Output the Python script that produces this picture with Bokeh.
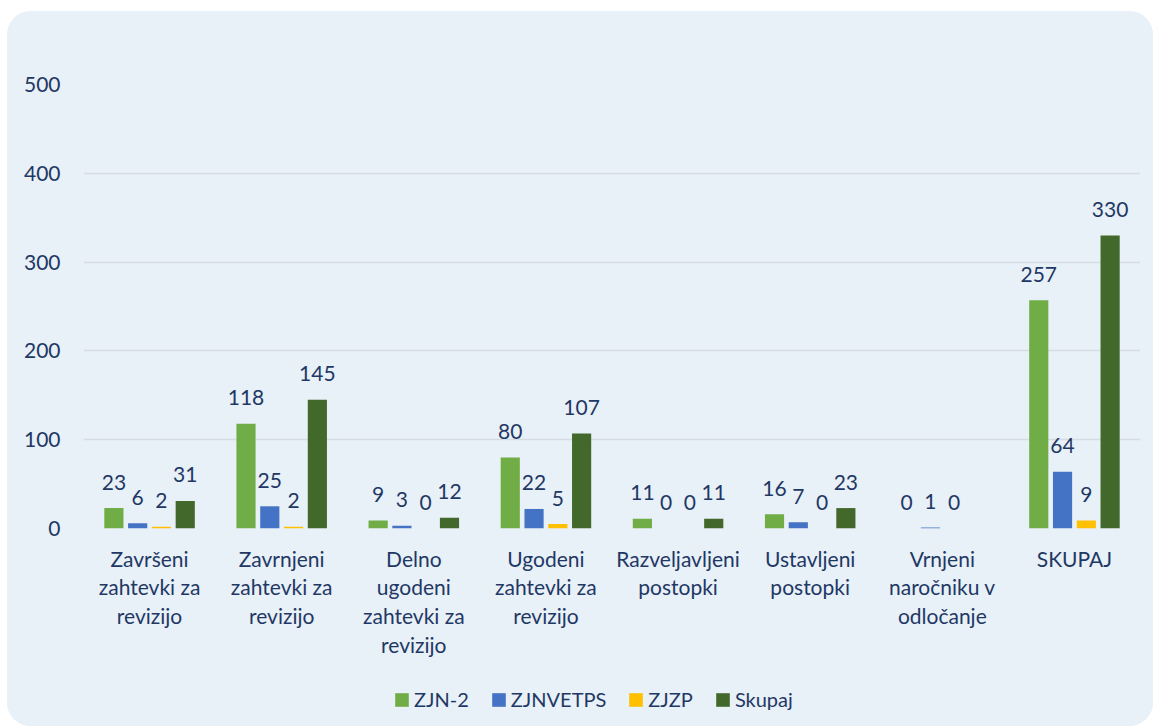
from bokeh.plotting import figure
from bokeh.models import ColumnDataSource, FactorRange, Legend, LegendItem, Range1d, FixedTicker
from bokeh.layouts import column
from bokeh.transform import dodge
from bokeh.core.properties import value
from bokeh.embed import file_html
from bokeh.resources import INLINE

categories = [
    "Završeni\nzahtevki za\nrevizijo",
    "Zavrnjeni\nzahtevki za\nrevizijo",
    "Delno\nugodeni\nzahtevki za\nrevizijo",
    "Ugodeni\nzahtevki za\nrevizijo",
    "Razveljavljeni\npostopki",
    "Ustavljeni\npostopki",
    "Vrnjeni\nnaročniku v\nodločanje",
    "SKUPAJ",
]
series_names = ["ZJN-2", "ZJNVETPS", "ZJZP", "Skupaj"]
zjn2 = [23, 118, 9, 80, 11, 16, 0, 257]
zjnvetps = [6, 25, 3, 22, 0, 7, 1, 64]
zjzp = [2, 2, 0, 5, 0, 0, 0, 9]
skupaj = [31, 145, 12, 107, 11, 23, None, 330]
y_ticks = [0, 100, 200, 300, 400, 500]

colors = ["#70AD47", "#4472C4", "#FFC000", "#43682B"]
offsets = [-0.27, -0.09, 0.09, 0.27]
TEXT = "#1F3864"
BG = "#E8F0F8"
FONT = "Lato"

p = figure(
    x_range=FactorRange(*categories, range_padding=0),
    y_range=Range1d(0, 500),
    width=1146, height=652,
    output_backend="svg", toolbar_location=None,
    min_border_left=76, min_border_right=13, min_border_top=73, min_border_bottom=135,
)
p.x_range.factor_padding = 0
p.background_fill_color = BG
p.border_fill_color = BG
p.outline_line_color = None

for name, vals, col, off in zip(series_names, [zjn2, zjnvetps, zjzp, skupaj], colors, offsets):
    xs = [c for c, v in zip(categories, vals) if v is not None]
    ys = [v for v in vals if v is not None]
    src = ColumnDataSource(dict(x=xs, y=ys, lbl=[str(v) for v in ys]))
    p.vbar(x=dodge("x", off, range=p.x_range), top="y", bottom=0, width=0.145,
           source=src, fill_color=col, line_color=None)
    p.text(x=dodge("x", off, range=p.x_range), y="y", text="lbl", source=src,
           text_align="center", text_baseline="alphabetic", y_offset=-26,
           text_font=value(FONT), text_font_size="21px", text_color=TEXT)

p.xgrid.grid_line_color = None
p.ygrid.grid_line_color = "#D6DCE3"
p.ygrid.grid_line_width = 1.5
p.yaxis.ticker = FixedTicker(ticks=y_ticks)

for ax in (p.xaxis, p.yaxis):
    ax.axis_line_color = None
    ax.major_tick_line_color = None
    ax.minor_tick_line_color = None
    ax.major_label_text_font = FONT
    ax.major_label_text_font_size = "21px"
    ax.major_label_text_color = TEXT

p.yaxis.major_label_standoff = 17
p.xaxis.major_label_standoff = 11
p.xaxis.major_label_text_line_height = 1.15
p.xaxis.major_label_orientation = "horizontal"

# legend strip
lg = figure(width=1146, height=63, x_range=Range1d(0, 1), y_range=Range1d(0, 1),
            output_backend="svg", toolbar_location=None,
            min_border_left=0, min_border_right=0, min_border_top=0, min_border_bottom=0)
lg.axis.visible = False
lg.grid.visible = False
lg.background_fill_color = BG
lg.border_fill_color = BG
lg.outline_line_color = None
items = []
for name, col in zip(series_names, colors):
    r = lg.vbar(x=[-5], top=[-5], bottom=[-6], width=0.1, fill_color=col, line_color=None)
    items.append(LegendItem(label=name, renderers=[r]))
legend = Legend(items=items, orientation="horizontal", location=(310, 15),
                label_text_font=FONT, label_text_font_size="20px", label_text_color=TEXT,
                glyph_width=17, glyph_height=17, label_standoff=4, spacing=21,
                background_fill_alpha=0, border_line_color=None,
                margin=0, padding=0)
lg.add_layout(legend, "center")

layout = column(p, lg, spacing=0)
layout.margin = (11, 0, 0, 7)
layout.styles = {"border-radius": "24px", "overflow": "hidden", "background-color": BG}

open("out.html", "w").write(file_html(layout, INLINE))
